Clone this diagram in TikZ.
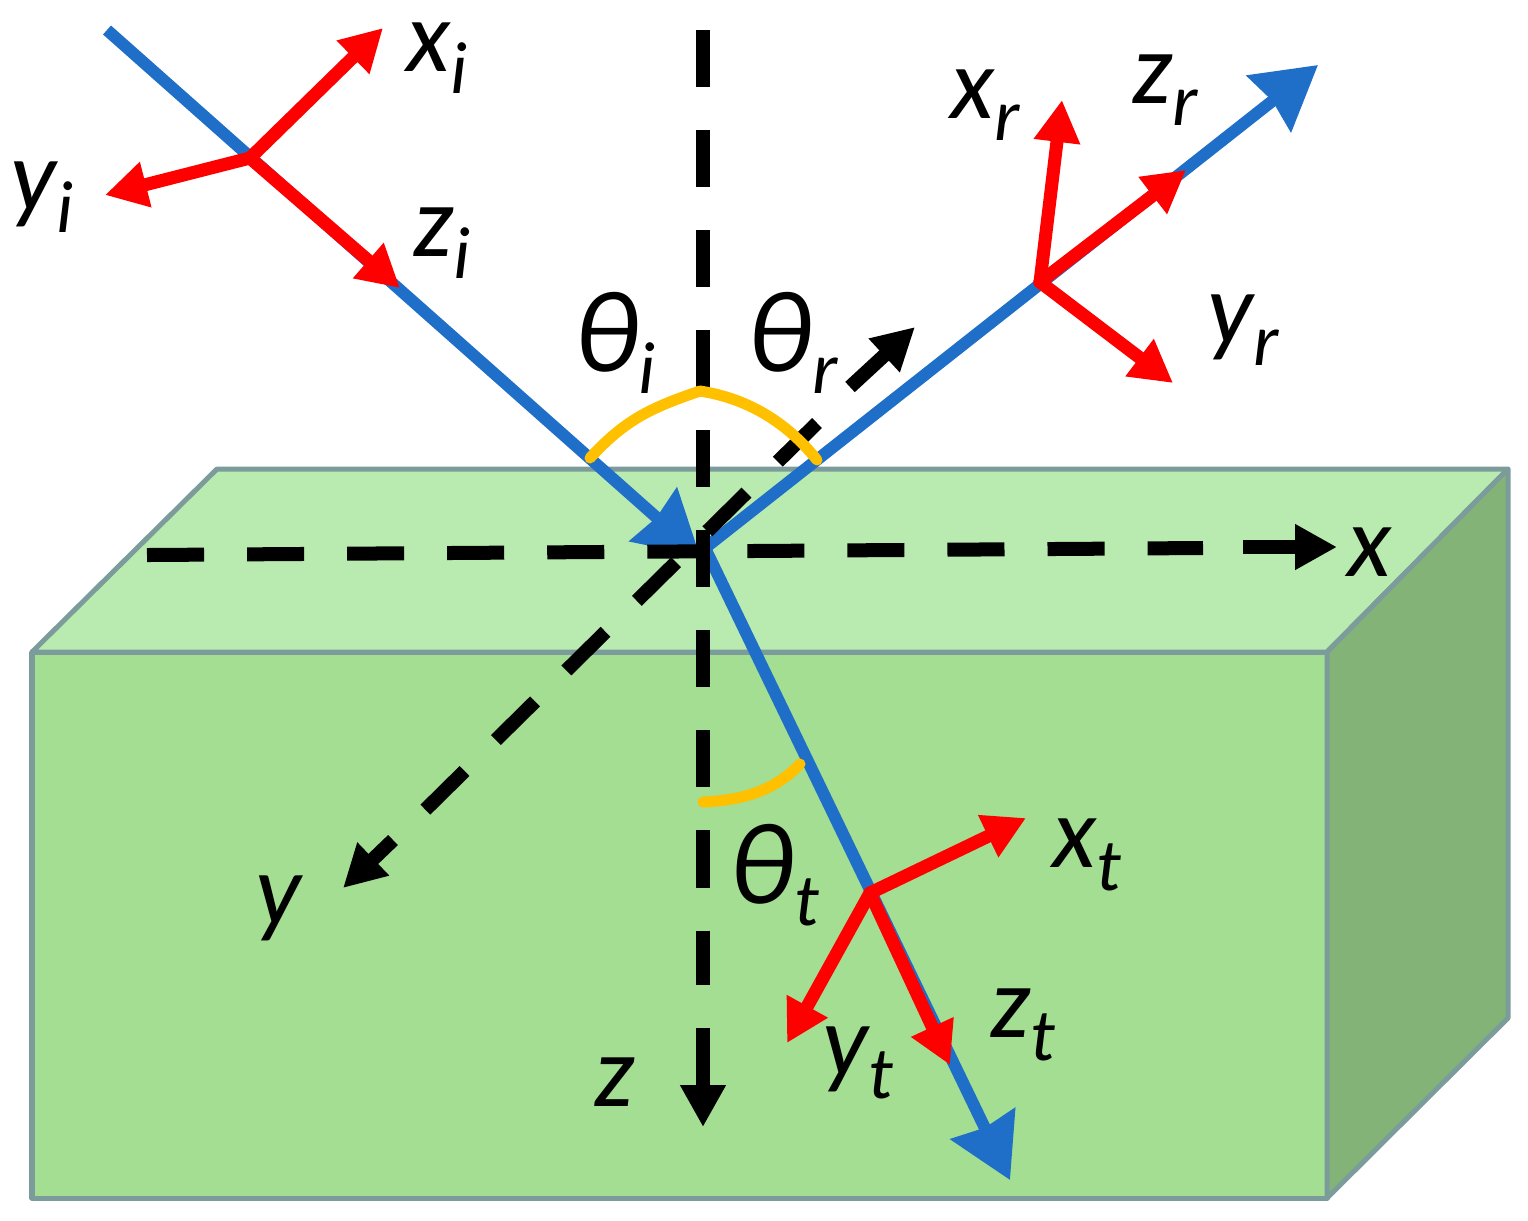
\documentclass[tikz,border=0pt]{standalone}
\usepackage{fontspec}
\setmainfont{Carlito}
\usetikzlibrary{arrows.meta}
\definecolor{frontgreen}{HTML}{A3DE93}
\definecolor{topgreen}{HTML}{B9EBB0}
\definecolor{sidegreen}{HTML}{83B377}
\definecolor{boxedge}{HTML}{7C9C9C}
\definecolor{raybluec}{HTML}{1F6FC9}
\definecolor{arcorange}{HTML}{FFC000}
\newcommand{\lab}[2]{#1\raisebox{-0.22em}{\fontsize{21}{21}\selectfont #2}}
\newcommand{\thlab}[1]{{\fontsize{33}{33}\selectfont θ}\raisebox{-0.22em}{\fontsize{21}{21}\selectfont #1}}
\tikzset{
	face/.style={draw=boxedge, line width=0.05cm, line join=round},
	ray/.style={draw=raybluec, line width=0.12cm},
	rayhead/.style={-{Stealth[inset=0.04cm, length=0.62cm, width=0.7cm]}},
	frame/.style={draw=red, line width=0.13cm, line cap=round, -{Triangle[length=0.42cm, width=0.44cm]}},
	axis/.style={draw=black, line width=0.14cm},
	axisend/.style={axis, -{Triangle[length=0.42cm, width=0.43cm]}},
	angle/.style={draw=arcorange, line width=0.11cm, line cap=round},
	lbl/.style={inner sep=0pt, font=\fontsize{29}{29}\selectfont\itshape}
}
\begin{document}
\begin{tikzpicture}[x=0.01cm, y=-0.01cm]
	\useasboundingbox (0,0) rectangle (1528,1220);

	% Block
	\fill[frontgreen, face] (32,652) -- (1327,652) -- (1327,1198) -- (32,1198) -- cycle;
	\fill[topgreen, face] (32,652) -- (217,469) -- (1508,469) -- (1327,652) -- cycle;
	\fill[sidegreen, face] (1327,652) -- (1508,469) -- (1508,1018) -- (1327,1198) -- cycle;

	% Points
	\foreach \n/\x/\y in {o/705/548, start/107/30, hit/700/556, refl/1318/65, trans/1010/1180,
			oi/250/158, xi/383/28, yi/105/195, zi/400/288,
			or/1040/282, xr/1062/100, yr/1173/383, zr/1186/170,
			ot/870/893, xt/1026/818, yt/787/1043, zt/950/1065,
			xa/147/555, xb/1203/548, xc/1243/547, xd/1337/547,
			ya/817/423, yb/425/810, yc/393/840, yd/343/888, ye/850/387, yf/915/327,
			za/703/30, zb/703/985, zc/703/1028, zd/703/1127,
			ia/590/458, ib/700/391, ra/817/460, ta/703/802, tb/800/764}
		\coordinate (\n) at (\x,\y);

	% Rays
	\draw[ray, rayhead] (start) -- (hit);
	\draw[ray, rayhead] (o) -- (refl);
	\draw[ray, rayhead] (o) -- (trans);

	% Axes
	\draw[axis, dash pattern=on 0.57cm off 0.43cm] (xa) -- (xb);
	\draw[axisend] (xc) -- (xd);
	\draw[axis, dash pattern=on 0.55cm off 0.44cm] (ya) -- (yb);
	\draw[axisend] (yc) -- (yd);
	\draw[axisend] (ye) -- (yf);
	\draw[axis, dash pattern=on 0.57cm off 0.43cm] (za) -- (zb);
	\draw[axisend] (zc) -- (zd);

	% Angles
	\draw[angle] (ia) .. controls (625,420) and (650,408) .. (ib);
	\draw[angle] (ib) .. controls (745,398) and (785,420) .. (ra);
	\draw[angle] (ta) .. controls (745,800) and (775,790) .. (tb);

	% Local frames
	\foreach \a/\b in {oi/xi, oi/yi, oi/zi, or/xr, or/yr, or/zr, ot/xt, ot/yt, ot/zt}
		\draw[frame] (\a) -- (\b);

	% Labels
	\foreach \n/\x/\y/\s/\t in {lxi/437/58/x/i, lyi/42/197/y/i, lzi/442/243/z/i,
			lxr/985/105/x/r, lzr/1165/90/z/r, lyr/1243/330/y/r,
			lxt/1087/855/x/t, lyt/858/1063/y/t, lzt/1023/1025/z/t}
		\node[lbl] (\n) at (\x,\y) {\lab{\s}{\t}};
	\foreach \n/\x/\y/\t in {lthi/615/343/i, lthr/793/343/r, ltht/774/875/t}
		\node[lbl] (\n) at (\x,\y) {\thlab{\t}};
	\node[lbl] (lx) at (1370,552) {x};
	\node[lbl] (ly) at (278,908) {y};
	\node[lbl] (lz) at (615,1082) {z};
\end{tikzpicture}
\end{document}
